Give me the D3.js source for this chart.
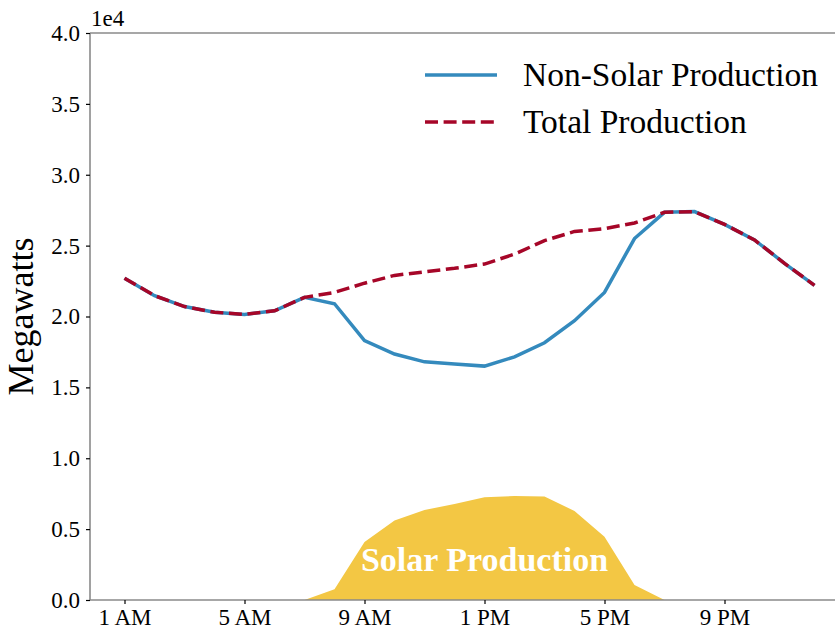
<!DOCTYPE html>
<html>
<head>
<meta charset="utf-8">
<script src="https://cdn.jsdelivr.net/npm/d3@7"></script>
<style>
  body { margin: 0; background: #fff; }
  text { font-family: "Liberation Serif", "Times New Roman", serif; }
</style>
</head>
<body>
<script>

// hourly data, 1 AM through midnight
var hours = ["1 AM", "2 AM", "3 AM", "4 AM", "5 AM", "6 AM", "7 AM", "8 AM", "9 AM", "10 AM", "11 AM", "12 PM",
             "1 PM", "2 PM", "3 PM", "4 PM", "5 PM", "6 PM", "7 PM", "8 PM", "9 PM", "10 PM", "11 PM", "12 AM"];

var nonSolar = [22700, 21470, 20700, 20300, 20150, 20400, 21350, 20900, 18300, 17350, 16800, 16650,
                16500, 17150, 18150, 19700, 21700, 25500, 27350, 27400, 26500, 25400, 23750, 22200];

var total = [22700, 21470, 20700, 20300, 20150, 20400, 21350, 21700, 22350, 22900, 23150, 23400,
             23700, 24400, 25350, 26000, 26200, 26600, 27350, 27400, 26500, 25400, 23750, 22200];

var solar = [0, 0, 0, 0, 0, 0, 0, 750, 4100, 5600, 6350, 6770,
             7240, 7330, 7300, 6280, 4470, 1050, 0, 0, 0, 0, 0, 0];

var yTicks = [0, 5000, 10000, 15000, 20000, 25000, 30000, 35000, 40000];
var xTicks = [0, 4, 8, 12, 16, 20];

var svgWidth = 839;
var svgHeight = 632;

var plot = { left: 90, right: 849, top: 33, bottom: 600 };

var svg = d3.select("body")
  .append("svg")
  .attr("width", svgWidth)
  .attr("height", svgHeight);

// matplotlib-like 5% margin on x
var n = hours.length - 1;
var xScale = d3.scaleLinear()
  .domain([-0.05 * n, n * 1.05])
  .range([plot.left, plot.right]);

var yScale = d3.scaleLinear()
  .domain([0, 40000])
  .range([plot.bottom, plot.top]);

// solar area
var area = d3.area()
  .x((d, i) => xScale(i))
  .y0(yScale(0))
  .y1(d => yScale(d));

svg.append("path")
  .datum(solar)
  .attr("d", area)
  .attr("fill", "#F3C744");

svg.append("text")
  .attr("x", xScale(12))
  .attr("y", 571)
  .attr("text-anchor", "middle")
  .attr("font-size", "34px")
  .attr("font-weight", "bold")
  .attr("fill", "#fff")
  .text("Solar Production");

// lines
var line = d3.line()
  .x((d, i) => xScale(i))
  .y(d => yScale(d));

svg.append("path")
  .datum(nonSolar)
  .attr("d", line)
  .attr("fill", "none")
  .attr("stroke", "#348ABD")
  .attr("stroke-width", 3.5);

svg.append("path")
  .datum(total)
  .attr("d", line)
  .attr("fill", "none")
  .attr("stroke", "#A60628")
  .attr("stroke-width", 3.5)
  .attr("stroke-dasharray", "13,5.6");

// spines
var spineColor = "#8a8a8a";
svg.append("line")
  .attr("x1", plot.left).attr("x2", plot.left)
  .attr("y1", plot.top).attr("y2", plot.bottom)
  .attr("stroke", spineColor).attr("stroke-width", 1.6);
svg.append("line")
  .attr("x1", plot.left).attr("x2", 835)
  .attr("y1", plot.bottom).attr("y2", plot.bottom)
  .attr("stroke", spineColor).attr("stroke-width", 1.6);
svg.append("line")
  .attr("x1", plot.left).attr("x2", 835)
  .attr("y1", plot.top).attr("y2", plot.top)
  .attr("stroke", spineColor).attr("stroke-width", 1.6);

// axes
var bottomAxis = d3.axisBottom(xScale)
  .tickValues(xTicks)
  .tickFormat(i => hours[i])
  .tickSize(4)
  .tickPadding(5);

var leftAxis = d3.axisLeft(yScale)
  .tickValues(yTicks)
  .tickFormat(v => (v / 10000).toFixed(1))
  .tickSize(4)
  .tickPadding(6);

var xAxisG = svg.append("g")
  .attr("transform", `translate(0, ${plot.bottom})`)
  .call(bottomAxis);

var yAxisG = svg.append("g")
  .attr("transform", `translate(${plot.left}, 0)`)
  .call(leftAxis);

[xAxisG, yAxisG].forEach(g => {
  g.select(".domain").remove();
  g.selectAll("line").attr("stroke", "#000").attr("stroke-width", 1.2);
  g.selectAll("text")
    .attr("font-family", "Liberation Serif, serif")
    .attr("font-size", "23px")
    .attr("fill", "#000");
});

// offset text
svg.append("text")
  .attr("x", 91)
  .attr("y", 26)
  .attr("font-size", "23px")
  .text("1e4");

// y label
svg.append("text")
  .attr("transform", `translate(33, ${(plot.top + plot.bottom) / 2}) rotate(-90)`)
  .attr("text-anchor", "middle")
  .attr("font-size", "36px")
  .text("Megawatts");

// legend
var legendItems = [
  { label: "Non-Solar Production", color: "#348ABD", dash: null, y: 75 },
  { label: "Total Production", color: "#A60628", dash: "13,5.6", y: 122 }
];

var legend = svg.append("g");

legend.selectAll(".legLine")
  .data(legendItems)
  .enter()
  .append("line")
  .attr("class", "legLine")
  .attr("x1", 425).attr("x2", 497)
  .attr("y1", d => d.y).attr("y2", d => d.y)
  .attr("stroke", d => d.color)
  .attr("stroke-width", 3.5)
  .attr("stroke-dasharray", d => d.dash);

legend.selectAll(".legText")
  .data(legendItems)
  .enter()
  .append("text")
  .attr("class", "legText")
  .attr("x", 523)
  .attr("y", d => d.y + 11)
  .attr("font-size", "33.5px")
  .text(d => d.label);

</script>
</body>
</html>
